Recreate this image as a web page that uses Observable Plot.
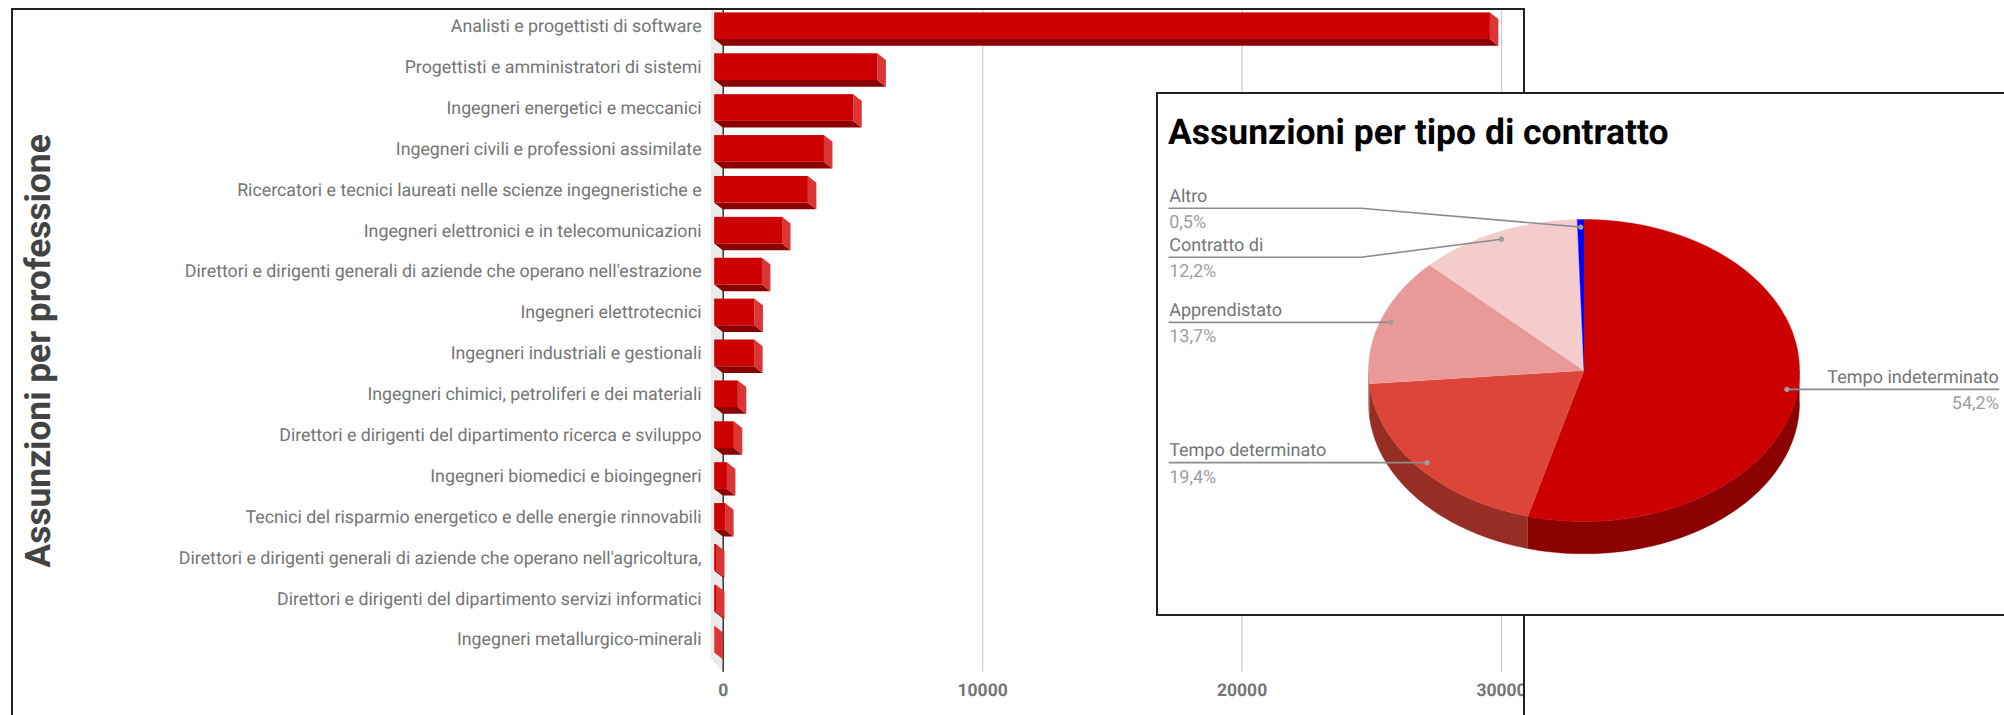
<!DOCTYPE html>
<html>
<head>
<meta charset="utf-8">
<script src="https://cdn.jsdelivr.net/npm/d3@7"></script>
<script src="https://cdn.jsdelivr.net/npm/@observablehq/plot@0.6"></script>
<style>
  html, body { margin: 0; padding: 0; background: #fff; width: 2004px; height: 715px; overflow: hidden; font-family: Roboto, sans-serif; text-rendering: geometricPrecision; }
  svg text { text-rendering: geometricPrecision; }
  #main, #inset, #mainBox, #insetBox, #insetTitle { position: absolute; }
  #main { left: 0; top: 0; }
  #mainBox { left: 11px; top: 8px; width: 1510px; height: 900px; border: 2px solid #222; box-sizing: content-box; pointer-events: none; }
  #insetBox { left: 1156px; top: 92px; width: 1000px; height: 520px; border: 2px solid #222; background: #fff; }
  #inset { left: 1157px; top: 92px; }
  #insetTitle { left: 1168px; top: 111px; font: 700 35.5px Roboto, sans-serif; color: #000; white-space: nowrap; }
</style>
</head>
<body>
<div id="main"></div>
<div id="mainBox"></div>
<div id="insetBox"></div>
<div id="inset"></div>
<div id="insetTitle">Assunzioni per tipo di contratto</div>
<script>
const professions = [
  "Analisti e progettisti di software",
  "Progettisti e amministratori di sistemi",
  "Ingegneri energetici e meccanici",
  "Ingegneri civili e professioni assimilate",
  "Ricercatori e tecnici laureati nelle scienze ingegneristiche e",
  "Ingegneri elettronici e in telecomunicazioni",
  "Direttori e dirigenti generali di aziende che operano nell'estrazione",
  "Ingegneri elettrotecnici",
  "Ingegneri industriali e gestionali",
  "Ingegneri chimici, petroliferi e dei materiali",
  "Direttori e dirigenti del dipartimento ricerca e sviluppo",
  "Ingegneri biomedici e bioingegneri",
  "Tecnici del risparmio energetico e delle energie rinnovabili",
  "Direttori e dirigenti generali di aziende che operano nell'agricoltura,",
  "Direttori e dirigenti del dipartimento servizi informatici",
  "Ingegneri metallurgico-minerali"
];
const hires = [29900, 6290, 5360, 4230, 3610, 2615, 1840, 1550, 1540, 910, 755, 490, 420, 70, 70, 10];
const xTicks = [0, 10000, 20000, 30000];

const contracts = ["Tempo indeterminato", "Tempo determinato", "Apprendistato", "Contratto di", "Altro"];
const shares = [54.2, 19.4, 13.7, 12.2, 0.5];
const shareLabels = ["54,2%", "19,4%", "13,7%", "12,2%", "0,5%"];
const topColors = ["#cc0000", "#dd4539", "#ea9999", "#f4cccc", "#0000ff"];
const sideColors = ["#8b0000", "#962e25", "#a46b6b", "#a98e8e", "#00008b"];

const rows = professions.map((name, i) => ({name, v: hires[i]}));

// bar depth in pixels
const DX = 8.5, DY = 6.7, BAR_TOP = 6.9, BAR_H = 26.7, STEP = 40.89;

function poly(pts, fill) {
  return d3.create("svg:path").attr("d", "M" + pts.map(p => p.join(",")).join("L") + "Z").attr("fill", fill).node();
}
function prismFace(kind, fill) {
  return Plot.barX(rows, {
    x: "v", y: "name",
    render(index, {x, y}) {
      const g = d3.create("svg:g");
      for (const i of index) {
        const top = y(rows[i].name) + BAR_TOP, bot = top + BAR_H;
        const L = x(0) - DX, R = x(rows[i].v) - DX;
        const pts = kind === "bottom"
          ? [[L, bot], [R, bot], [R + DX, bot + DY], [L + DX, bot + DY]]
          : [[R, top], [R + DX, top + DY], [R + DX, bot + DY], [R, bot]];
        g.append(() => poly(pts, fill));
      }
      return g.node();
    }
  });
}
const wall = (index, {x}) => poly([[x(0) - 11.7, 9], [x(0), 9], [x(0), 671.7], [x(0) - 11.7, 658]], "#ebebeb");

const mainPlot = Plot.plot({
  width: 1524, height: 715,
  marginLeft: 722.7, marginRight: 23, marginTop: 9, marginBottom: 43.3,
  style: {overflow: "hidden", background: "transparent", fontFamily: "Roboto, sans-serif"},
  x: {domain: [0, 30000], axis: null},
  y: {type: "band", domain: professions, range: [5.5, 5.5 + 16 * STEP], padding: 0, round: false, axis: null},
  marks: [
    Plot.ruleX(xTicks.slice(1), {stroke: "#cccccc", strokeWidth: 1.2, strokeOpacity: 1}),
    wall,
    Plot.ruleX([0], {stroke: "#333333", strokeWidth: 1.5}),
    prismFace("bottom", "#8b0000"),
    prismFace("side", "#dc3535"),
    Plot.barX(rows, {x1: () => 0, x2: "v", y: "name", dx: -DX, insetTop: BAR_TOP, insetBottom: STEP - BAR_TOP - BAR_H, fill: "#cc0000"}),
    Plot.axisY({anchor: "left", label: null, tickSize: 0, tickPadding: 21.6, fontSize: 17.8, fill: "#757575"}),
    Plot.axisX({anchor: "bottom", label: null, ticks: xTicks, tickFormat: d => String(d), tickSize: 0, tickPadding: 11, fontSize: 17.5, fontWeight: 700, fill: "#757575"}),
    Plot.text(["Assunzioni per professione"], {text: d => d, frameAnchor: "left", textAnchor: "middle", rotate: -90, dx: -684, dy: 10, fontSize: 35.3, fontWeight: 700, fill: "#434343"})
  ]
});
document.getElementById("main").appendChild(mainPlot);

// Pie in unit coordinates, tilted by the y scale
const DEPTH = 32.3 / 151;
const rad = d => d * Math.PI / 180;
let cum = 0;
const slices = contracts.map((name, i) => {
  const a0 = cum * 3.6; cum += shares[i];
  return {name, a0, a1: cum * 3.6, mid: (a0 + cum * 3.6) / 2, i};
});
const ring = (a0, a1) => {
  const n = Math.max(1, Math.ceil(a1 - a0)), out = [];
  for (let k = 0; k <= n; ++k) out.push(a0 + (a1 - a0) * k / n);
  return out;
};
const topPts = slices.flatMap(s => [
  {name: s.name, fill: topColors[s.i], x: 0, y: 0},
  ...ring(s.a0, s.a1).map(a => ({name: s.name, fill: topColors[s.i], x: Math.sin(rad(a)), y: Math.cos(rad(a))}))
]);
const sidePts = slices.flatMap(s => {
  const a0 = Math.max(s.a0, 90), a1 = Math.min(s.a1, 270);
  if (a1 <= a0) return [];
  const arc = ring(a0, a1);
  return [
    ...arc.map(a => ({name: s.name, fill: sideColors[s.i], x: Math.sin(rad(a)), y: Math.cos(rad(a))})),
    ...arc.slice().reverse().map(a => ({name: s.name, fill: sideColors[s.i], x: Math.sin(rad(a)), y: Math.cos(rad(a)) - DEPTH}))
  ];
});

// leader lines: outer ends in pie units
const LABEL_X = 1.925, ELBOW_X = -1.035, DOT_R = 0.95;
const labelLevels = {"Altro": 1.075, "Contratto di": 0.75};
const leaders = slices.map(s => {
  const dx = DOT_R * Math.sin(rad(s.mid)), dy = DOT_R * Math.cos(rad(s.mid));
  const right = dx > 0;
  const level = labelLevels[s.name] ?? dy;
  return {name: s.name, pct: shareLabels[s.i], right, dx, dy, level, endX: right ? LABEL_X : -LABEL_X};
});
const leaderPts = leaders.flatMap(l => {
  const pts = [{name: l.name, x: l.endX, y: l.level}];
  if (l.level !== l.dy) pts.push({name: l.name, x: ELBOW_X, y: l.level});
  pts.push({name: l.name, x: l.dx, y: l.dy});
  return pts;
});

const insetPlot = Plot.plot({
  width: 847, height: 522, margin: 0,
  style: {background: "transparent", overflow: "hidden", fontFamily: "Roboto, sans-serif"},
  x: {domain: [-1, 1], range: [426.5 - 215.5, 426.5 + 215.5], axis: null},
  y: {domain: [-1, 1], range: [278 + 151, 278 - 151], axis: null},
  marks: [
    Plot.line(sidePts, {x: "x", y: "y", z: "name", fill: "fill", stroke: "fill", strokeWidth: 0.4}),
    Plot.line(topPts, {x: "x", y: "y", z: "name", fill: "fill", stroke: "fill", strokeWidth: 0.4}),
    Plot.line(leaderPts, {x: "x", y: "y", z: "name", stroke: "#8c8c8c", strokeWidth: 1.6}),
    Plot.dot(leaders, {x: "dx", y: "dy", r: 2.6, fill: "#9e9e9e", stroke: "none"}),
    Plot.text(leaders, {x: "endX", y: "level", text: "name", dy: -12.3, fontSize: 18, fill: "#757575", filter: d => !d.right, textAnchor: "start"}),
    Plot.text(leaders, {x: "endX", y: "level", text: "pct", dy: 14.2, fontSize: 18, fill: "#9e9e9e", filter: d => !d.right, textAnchor: "start"}),
    Plot.text(leaders, {x: "endX", y: "level", text: "name", dy: -12.3, fontSize: 18, fill: "#757575", filter: d => d.right, textAnchor: "end"}),
    Plot.text(leaders, {x: "endX", y: "level", text: "pct", dy: 14.2, fontSize: 18, fill: "#9e9e9e", filter: d => d.right, textAnchor: "end"})
  ]
});
document.getElementById("inset").appendChild(insetPlot);
</script>
</body>
</html>
